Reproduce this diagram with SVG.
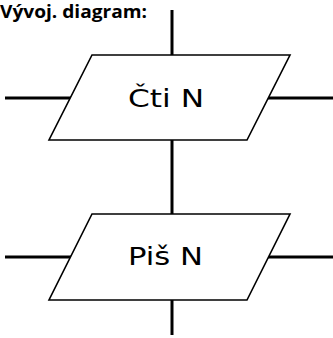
<svg xmlns="http://www.w3.org/2000/svg" width="333" height="338" viewBox="0 0 333 338">
<style>
.conn{stroke:#000;stroke-width:3;fill:none}
.io{fill:#fff;stroke:#000;stroke-width:1.6;stroke-linejoin:miter}
.lbl{font-family:"DejaVu Sans",sans-serif;font-size:24px;fill:#000}
.title{font-family:"Open Sans","Liberation Sans",sans-serif;font-weight:bold;font-size:17px;fill:#000}
</style>
<rect width="333" height="338" fill="#fff"/>
<text class="title" x="0" y="18" textLength="147" lengthAdjust="spacingAndGlyphs">Vývoj. diagram:</text>
<g id="connectors">
<line class="conn" x1="172" y1="10" x2="172" y2="55"/>
<line class="conn" x1="172" y1="140" x2="172" y2="214"/>
<line class="conn" x1="172" y1="300" x2="172" y2="335"/>
<line class="conn" x1="5" y1="98" x2="72" y2="98"/>
<line class="conn" x1="268" y1="98" x2="333" y2="98"/>
<line class="conn" x1="5" y1="257" x2="72" y2="257"/>
<line class="conn" x1="268" y1="257" x2="333" y2="257"/>
</g>
<g id="cti">
<polygon class="io" points="92,55 290,55 247,140 49,140"/>
<text class="lbl" x="128" y="107" textLength="76" lengthAdjust="spacingAndGlyphs">Čti N</text>
</g>
<g id="pis">
<polygon class="io" points="92,214 290,214 247,300 49,300"/>
<text class="lbl" x="128" y="265" textLength="75" lengthAdjust="spacingAndGlyphs">Piš N</text>
</g>
</svg>
